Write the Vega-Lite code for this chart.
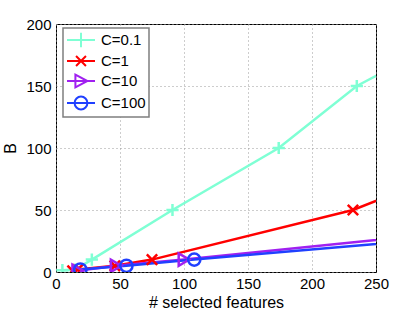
{
  "$schema": "https://vega.github.io/schema/vega-lite/v6.json",
  "width": 320,
  "height": 248,
  "autosize": "none",
  "padding": {"left": 56, "top": 24, "right": 39, "bottom": 40},
  "background": "white",
  "config": {
    "font": "Liberation Sans",
    "view": {"stroke": "black", "strokeWidth": 1},
    "axis": {
      "grid": true,
      "gridColor": "#9a9a9a",
      "gridDash": [1, 3],
      "gridWidth": 1,
      "domain": false,
      "ticks": false,
      "labelFlush": false,
      "labelFontSize": 15,
      "labelColor": "black",
      "titleFontSize": 16,
      "titleFontWeight": "normal",
      "titleColor": "black"
    },
    "legend": {
      "title": null,
      "orient": "none",
      "legendX": 7,
      "legendY": 4,
      "padding": 3,
      "strokeColor": "#7f7f7f",
      "strokeWidth": 1.5,
      "fillColor": "white",
      "symbolSize": 256,
      "symbolOffset": 6,
      "symbolStrokeWidth": 2,
      "symbolOpacity": 1,
      "symbolFillColor": "transparent",
      "labelFontSize": 15,
      "labelColor": "black",
      "labelOffset": 11,
      "rowPadding": 0
    }
  },
  "data": {
    "values": [
      {"C": "C=0.1", "x": 5, "y": 1.5},
      {"C": "C=0.1", "x": 15, "y": 2},
      {"C": "C=0.1", "x": 28, "y": 10},
      {"C": "C=0.1", "x": 91, "y": 50},
      {"C": "C=0.1", "x": 174, "y": 100},
      {"C": "C=0.1", "x": 235, "y": 150},
      {"C": "C=0.1", "x": 290, "y": 180},
      {"C": "C=1", "x": 13, "y": 1},
      {"C": "C=1", "x": 17, "y": 2},
      {"C": "C=1", "x": 46, "y": 5},
      {"C": "C=1", "x": 75, "y": 10},
      {"C": "C=1", "x": 232, "y": 50},
      {"C": "C=1", "x": 300, "y": 78},
      {"C": "C=10", "x": 17, "y": 1},
      {"C": "C=10", "x": 47, "y": 5},
      {"C": "C=10", "x": 100, "y": 10},
      {"C": "C=10", "x": 300, "y": 31},
      {"C": "C=100", "x": 19, "y": 2},
      {"C": "C=100", "x": 55, "y": 5},
      {"C": "C=100", "x": 108, "y": 10},
      {"C": "C=100", "x": 300, "y": 27}
    ]
  },
  "encoding": {
    "x": {"field": "x", "type": "quantitative", "scale": {"domain": [0, 250], "nice": false}, "axis": {"values": [0, 50, 100, 150, 200, 250], "title": "# selected features", "labelPadding": 4, "titlePadding": 3}},
    "y": {"field": "y", "type": "quantitative", "scale": {"domain": [0, 200], "nice": false}, "axis": {"values": [0, 50, 100, 150, 200], "title": "B", "labelPadding": 5, "titlePadding": 7}},
    "color": {"field": "C", "type": "nominal", "scale": {"domain": ["C=0.1", "C=1", "C=10", "C=100"], "range": ["#7fffd4", "#ff0000", "#a020f0", "#2040ff"]}}
  },
  "layer": [
    {
      "mark": {"type": "line", "strokeWidth": 2.5, "clip": true},
      "encoding": {
        "order": {"field": "x", "type": "quantitative"}
      }
    },
    {
      "transform": [{"filter": "datum.x <= 250 && datum.C === 'C=0.1'"}],
      "mark": {"type": "point", "shape": "M-1,0L1,0M0,-1L0,1", "filled": false, "strokeWidth": 2.5, "opacity": 1, "size": 150, "clip": true}
    },
    {
      "transform": [{"filter": "datum.x <= 250 && datum.C === 'C=1'"}],
      "mark": {"type": "point", "shape": "M-0.85,-0.85L0.85,0.85M-0.85,0.85L0.85,-0.85", "filled": false, "strokeWidth": 2.5, "opacity": 1, "size": 150, "clip": true}
    },
    {
      "transform": [{"filter": "datum.x <= 250 && datum.C === 'C=10'"}],
      "mark": {"type": "point", "shape": "triangle-right", "filled": false, "strokeWidth": 2.5, "opacity": 1, "size": 150, "clip": true}
    },
    {
      "transform": [{"filter": "datum.x <= 250 && datum.C === 'C=100'"}],
      "mark": {"type": "point", "shape": "circle", "filled": false, "strokeWidth": 2.5, "opacity": 1, "size": 150, "clip": true}
    },
    {
      "transform": [{"filter": "datum.x > 250"}],
      "mark": {"type": "point", "filled": false, "strokeWidth": 2, "opacity": 1, "size": 150, "clip": true},
      "encoding": {
        "shape": {"field": "C", "type": "nominal", "scale": {"domain": ["C=0.1", "C=1", "C=10", "C=100"], "range": [
          "M-1.75,0L1.75,0M0,-0.9L0,0.9",
          "M-1.75,0L1.75,0M-0.62,-0.62L0.62,0.62M-0.62,0.62L0.62,-0.62",
          "M-1.75,0L1.75,0M-0.7,-0.8L0.8,0L-0.7,0.8Z",
          "M-1.75,0L1.75,0M0.8,0A0.8,0.8 0 1 1 -0.8,0A0.8,0.8 0 1 1 0.8,0"
        ]}}
      }
    }
  ]
}
